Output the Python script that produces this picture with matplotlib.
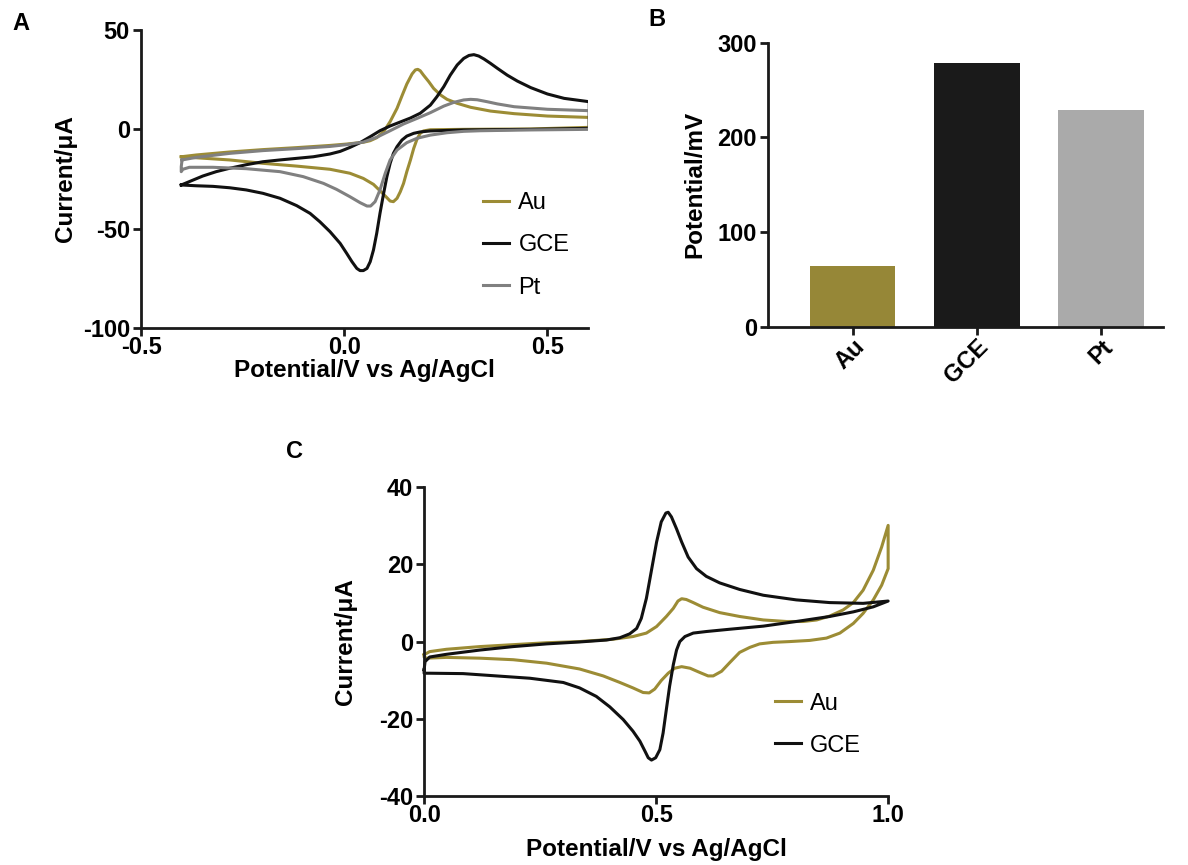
import numpy as np
import matplotlib.pyplot as plt

plt.rcParams['font.family'] = ['Liberation Sans', 'DejaVu Sans']
plt.rcParams['axes.unicode_minus'] = False

OLIVE = '#9c8c35'
GRAY = '#808080'

# ---- panel A: CV of the three electrodes (x in V, y in uA) ----
gce_fwd_x = [-0.401, -0.381, -0.348, -0.315, -0.282, -0.241, -0.200, -0.158, -0.117, -0.076,
             -0.035, -0.010, 0.014, 0.039, 0.064, 0.088, 0.113, 0.138, 0.163, 0.187,
             0.212, 0.228, 0.245, 0.261, 0.278, 0.294, 0.307, 0.319, 0.331, 0.344,
             0.360, 0.377, 0.401, 0.426, 0.459, 0.500, 0.541, 0.603]
gce_fwd_y = [-28.0, -26.3, -23.5, -21.3, -19.6, -17.8, -16.3, -15.4, -14.6, -13.8,
             -12.4, -11.1, -9.1, -6.7, -3.7, -0.7, 1.7, 3.7, 5.7, 8.1,
             12.2, 16.4, 21.5, 27.3, 32.4, 35.7, 37.2, 37.6, 36.9, 35.4,
             33.2, 30.7, 27.3, 24.3, 21.0, 17.8, 15.6, 13.9]
gce_rev_x = [0.603, 0.459, 0.294, 0.212, 0.187, 0.171, 0.154, 0.142, 0.130, 0.121,
             0.113, 0.105, 0.097, 0.088, 0.080, 0.072, 0.064, 0.056, 0.047, 0.039,
             0.031, 0.019, 0.006, -0.010, -0.035, -0.060, -0.084, -0.117, -0.158, -0.200,
             -0.241, -0.282, -0.323, -0.364, -0.401]
gce_rev_y = [0.5, 0.0, -0.3, -0.8, -1.3, -2.0, -3.4, -5.4, -8.7, -12.1,
             -17.1, -23.8, -32.2, -42.3, -52.3, -60.7, -66.6, -70.0, -71.1, -71.1,
             -70.0, -66.6, -62.4, -57.4, -51.5, -46.5, -42.3, -38.4, -34.7, -32.2,
             -30.5, -29.4, -28.7, -28.4, -28.0]

au_fwd_x = [-0.401, -0.364, -0.282, -0.200, -0.117, -0.035, 0.006, 0.047, 0.064, 0.080,
            0.097, 0.113, 0.130, 0.142, 0.154, 0.167, 0.175, 0.181, 0.187, 0.195,
            0.208, 0.220, 0.237, 0.253, 0.278, 0.311, 0.360, 0.418, 0.500, 0.603]
au_fwd_y = [-13.8, -12.9, -11.4, -10.2, -9.2, -8.1, -7.4, -6.5, -5.7, -4.2,
            -1.2, 3.9, 10.6, 16.8, 22.8, 27.9, 29.9, 30.2, 29.5, 27.3,
            24.0, 20.6, 17.3, 15.1, 13.1, 11.1, 9.2, 7.9, 6.7, 6.0]
au_rev_x = [0.603, 0.459, 0.294, 0.212, 0.195, 0.187, 0.179, 0.171, 0.163, 0.154,
            0.146, 0.138, 0.130, 0.121, 0.113, 0.105, 0.088, 0.072, 0.047, 0.014,
            -0.035, -0.117, -0.200, -0.282, -0.364, -0.401]
au_rev_y = [1.0, 0.2, 0.0, -0.2, -0.8, -2.0, -5.0, -9.6, -15.4, -21.3,
            -27.2, -31.4, -34.7, -36.4, -36.1, -34.4, -30.9, -27.7, -24.7, -22.1,
            -20.1, -18.5, -17.1, -15.4, -14.3, -13.8]

pt_fwd_x = [-0.399, -0.364, -0.282, -0.200, -0.117, -0.035, 0.006, 0.047, 0.080, 0.113,
            0.146, 0.179, 0.212, 0.245, 0.270, 0.294, 0.311, 0.327, 0.352, 0.377,
            0.418, 0.500, 0.603]
pt_fwd_y = [-15.4, -14.1, -12.1, -10.7, -9.7, -8.6, -7.7, -6.4, -4.0, -0.7,
            2.7, 5.5, 8.4, 11.7, 13.6, 14.8, 15.1, 14.9, 13.9, 12.8,
            11.4, 10.1, 9.4]
pt_rev_x = [0.603, 0.459, 0.335, 0.294, 0.253, 0.212, 0.179, 0.154, 0.130, 0.113,
            0.101, 0.088, 0.076, 0.065, 0.056, 0.039, 0.014, -0.019, -0.051, -0.101,
            -0.158, -0.241, -0.323, -0.381, -0.397, -0.401, -0.401, -0.399]
pt_rev_y = [0.0, -0.3, -0.7, -1.0, -1.7, -2.9, -4.5, -6.7, -10.4, -15.4,
            -22.1, -30.5, -36.4, -38.6, -38.6, -36.9, -33.9, -30.2, -27.2, -23.8,
            -21.3, -19.8, -19.1, -19.1, -20.1, -21.3, -18.8, -15.4]

# ---- panel B: peak separation ----
electrodes = ['Au', 'GCE', 'Pt']
peak_sep = [64, 279, 229]
bar_colors = ['#968737', '#1a1a1a', '#aaaaaa']

# ---- panel C: CV of Au and GCE ----
c_gce_fwd_x = [0.0, 0.002, 0.012, 0.048, 0.120, 0.192, 0.264, 0.335, 0.393, 0.422,
               0.443, 0.458, 0.468, 0.479, 0.490, 0.501, 0.511, 0.521, 0.526, 0.533,
               0.544, 0.555, 0.569, 0.587, 0.608, 0.637, 0.680, 0.731, 0.802, 0.874,
               0.946, 1.0]
c_gce_fwd_y = [-7.3, -5.2, -4.0, -3.3, -2.2, -1.3, -0.6, -0.1, 0.4, 1.0,
               2.0, 3.4, 6.0, 11.2, 18.5, 25.8, 31.0, 33.3, 33.5, 32.3,
               29.2, 25.8, 21.9, 18.9, 16.9, 15.2, 13.5, 12.0, 10.8, 10.1,
               9.9, 10.5]
c_gce_rev_x = [1.0, 0.968, 0.925, 0.874, 0.802, 0.731, 0.659, 0.608, 0.580, 0.562,
               0.551, 0.544, 0.537, 0.529, 0.522, 0.515, 0.508, 0.499, 0.490, 0.483,
               0.476, 0.465, 0.450, 0.429, 0.400, 0.371, 0.335, 0.300, 0.228, 0.156,
               0.084, 0.012, 0.0, 0.0]
c_gce_rev_y = [10.5, 9.0, 7.7, 6.5, 5.2, 4.0, 3.2, 2.6, 2.2, 1.3,
               0.0, -2.2, -6.0, -11.6, -17.6, -23.7, -28.0, -30.1, -30.7, -30.1,
               -28.4, -25.8, -23.2, -20.2, -16.9, -14.2, -12.0, -10.6, -9.5, -8.9,
               -8.3, -8.2, -8.2, -7.3]

c_au_fwd_x = [0.0, 0.012, 0.048, 0.120, 0.192, 0.264, 0.335, 0.407, 0.450, 0.479,
              0.501, 0.522, 0.537, 0.547, 0.555, 0.565, 0.580, 0.601, 0.637, 0.680,
              0.731, 0.781, 0.817, 0.846, 0.874, 0.903, 0.925, 0.946, 0.968, 0.986,
              1.0]
c_au_fwd_y = [-3.4, -2.6, -2.0, -1.3, -0.8, -0.3, 0.0, 0.6, 1.3, 2.2,
              3.9, 6.5, 8.6, 10.5, 11.1, 10.9, 10.1, 8.9, 7.5, 6.5,
              5.6, 5.2, 5.2, 5.6, 6.6, 8.2, 10.1, 13.3, 18.5, 24.5,
              30.1]
c_au_rev_x = [1.0, 0.986, 0.968, 0.946, 0.925, 0.896, 0.867, 0.831, 0.788, 0.752,
              0.723, 0.702, 0.680, 0.659, 0.641, 0.623, 0.612, 0.594, 0.573, 0.555,
              0.540, 0.526, 0.511, 0.497, 0.485, 0.472, 0.450, 0.422, 0.386, 0.335,
              0.264, 0.192, 0.120, 0.048, 0.005, 0.0, 0.0]
c_au_rev_y = [18.9, 14.6, 10.8, 7.3, 4.7, 2.2, 0.9, 0.3, 0.0, -0.2,
              -0.6, -1.5, -2.8, -5.4, -7.7, -8.9, -8.9, -8.0, -6.9, -6.5,
              -6.9, -8.2, -10.1, -12.3, -13.3, -13.2, -12.0, -10.6, -8.9, -7.1,
              -5.6, -4.7, -4.3, -4.1, -4.3, -4.0, -3.4]

TICK_FS = 17
LABEL_FS = 17.5


def style_axes(ax):
    for s in ['top', 'right']:
        ax.spines[s].set_visible(False)
    for s in ['left', 'bottom']:
        ax.spines[s].set_linewidth(2)
        ax.spines[s].set_color('#1a1a1a')
    ax.tick_params(width=2, length=6, labelsize=TICK_FS, color='#1a1a1a', pad=2)
    ax.tick_params(axis='x', pad=0)
    for lab in ax.get_xticklabels() + ax.get_yticklabels():
        lab.set_fontweight('bold')


def add_legend(ax, x0, y0):
    ax.legend(frameon=False, fontsize=TICK_FS, loc='upper left', bbox_to_anchor=(x0, y0),
              borderaxespad=0, borderpad=0, handlelength=1.1, labelspacing=0.85,
              handletextpad=0.4)


fig = plt.figure(figsize=(11.88, 8.65), dpi=100)

# A
axA = fig.add_axes([0.1187, 0.6208, 0.3763, 0.3445])
axA.plot(au_fwd_x + au_rev_x, au_fwd_y + au_rev_y, color=OLIVE, lw=2.2, label='Au')
axA.plot(gce_fwd_x + gce_rev_x, gce_fwd_y + gce_rev_y, color='#111111', lw=2.2, label='GCE')
axA.plot(pt_fwd_x + pt_rev_x, pt_fwd_y + pt_rev_y, color=GRAY, lw=2.2, label='Pt')
axA.set_xlim(-0.5, 0.6)
axA.set_ylim(-100, 50)
axA.set_xticks([-0.5, 0.0, 0.5])
axA.set_yticks([-100, -50, 0, 50])
axA.set_xlabel('Potential/V vs Ag/AgCl', fontsize=LABEL_FS, fontweight='bold', labelpad=0)
axA.set_ylabel('Current/μA', fontsize=LABEL_FS, fontweight='bold')
style_axes(axA)
add_legend(axA, 0.765, 0.455)

# B
axB = fig.add_axes([0.6465, 0.622, 0.3325, 0.3287])
axB.bar(electrodes, peak_sep, color=bar_colors, width=0.69)
axB.set_xlim(-0.68, 2.5)
axB.set_ylim(0, 300)
axB.set_yticks([0, 100, 200, 300])
axB.set_ylabel('Potential/mV', fontsize=LABEL_FS, fontweight='bold', labelpad=8)
style_axes(axB)
for lab in axB.get_xticklabels():
    lab.set_rotation(45)
    lab.set_ha('right')
    lab.set_rotation_mode('anchor')

# C
axC = fig.add_axes([0.357, 0.0798, 0.3906, 0.357])
axC.plot(c_au_fwd_x + c_au_rev_x, c_au_fwd_y + c_au_rev_y, color=OLIVE, lw=2.2,
         label='Au', clip_on=False)
axC.plot(c_gce_fwd_x + c_gce_rev_x, c_gce_fwd_y + c_gce_rev_y, color='#111111', lw=2.2,
         label='GCE', clip_on=False)
axC.set_xlim(0, 1.0)
axC.set_ylim(-40, 40)
axC.set_xticks([0.0, 0.5, 1.0])
axC.set_yticks([-40, -20, 0, 20, 40])
axC.set_xlabel('Potential/V vs Ag/AgCl', fontsize=LABEL_FS, fontweight='bold', labelpad=8)
axC.set_ylabel('Current/μA', fontsize=LABEL_FS, fontweight='bold', labelpad=16)
style_axes(axC)
add_legend(axC, 0.756, 0.335)

fig.text(12 / 1188, 1 - 23 / 865, 'A', fontsize=TICK_FS, fontweight='bold', va='center')
fig.text(648 / 1188, 1 - 20 / 865, 'B', fontsize=TICK_FS, fontweight='bold', va='center')
fig.text(286 / 1188, 1 - 452 / 865, 'C', fontsize=TICK_FS, fontweight='bold', va='center')

fig.savefig('out.png', dpi=100)
